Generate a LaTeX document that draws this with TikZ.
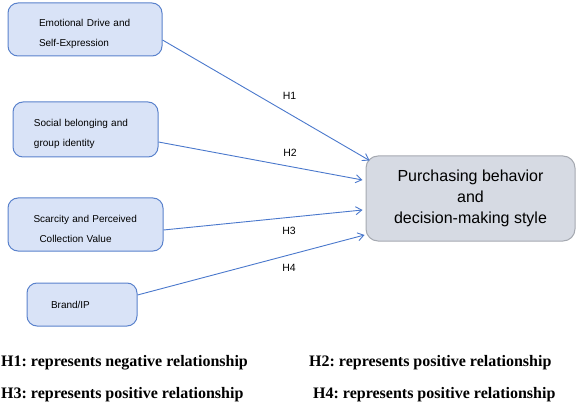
\documentclass[tikz,border=0pt]{standalone}
\usepackage{fontspec}
\setmainfont{Liberation Serif}
\setsansfont{Liberation Sans}
\frenchspacing
\definecolor{factor_fill}{rgb}{
	0.851, 0.890, 0.969
	}
\definecolor{factor_line}{rgb}{
	0.353, 0.510, 0.800
	}
\definecolor{outcome_fill}{rgb}{
	0.839, 0.855, 0.890
	}
\definecolor{outcome_line}{rgb}{
	0.647, 0.663, 0.694
	}
\definecolor{arrow_c}{rgb}{
	0.290, 0.471, 0.800
	}
\usetikzlibrary{arrows.meta,
                calc,
                positioning}

\begin{document}
\begin{tikzpicture}[
			x=1pt, y=-1pt,
			factor/.style = {draw=factor_line, fill=factor_fill, line width=1pt, rounded corners=10pt, align=left, font=\sffamily\fontsize{10}{20}\selectfont},
			lowered/.style = {execute at begin node={\rule{0pt}{16pt}}},
			outcome/.style = {draw=outcome_line, fill=outcome_fill, line width=1pt, rounded corners=12pt, align=center, minimum width=209pt, minimum height=85pt, font=\sffamily\fontsize{16}{21}\selectfont},
			hyp/.style = {font=\sffamily\fontsize{10.5}{12}\selectfont, inner sep=0pt},
			note/.style = {anchor=base west, inner sep=0pt, font=\bfseries\fontsize{16}{18}\selectfont},
			->,
			>={Straight Barb[length=6pt,width=8pt]},
			]
			\path[use as bounding box] (0,0) rectangle (576,409);
			% factors
			\node[factor, lowered, text width=92pt, inner xsep=31pt, minimum height=53pt] (emo) at (85,29.5) {Emotional Drive and\\Self-Expression};
			\node[factor, lowered, text width=103pt, inner xsep=21pt, minimum height=55pt] (soc) at (85.5,129.5) {Social belonging and\\group identity};
			\node[factor, lowered, text width=104pt, inner xsep=25.5pt, minimum height=53pt] (sca) at (85.5,224.5) {Scarcity and Perceived\\\hspace*{6pt}Collection Value};
			\node[factor, text width=62pt, inner xsep=24pt, minimum height=43pt] (bra) at (82,304.5) {Brand/IP};
			% outcome
			\node[outcome] (pur) at (470.5,198.5) {Purchasing behavior\\and\\decision-making style};
			% hypotheses
			\node[hyp] (h1) at (289.5,96) {H1};
			\node[hyp] (h2) at (290,153) {H2};
			\node[hyp] (h3) at (289,231) {H3};
			\node[hyp] (h4) at (289,268) {H4};
			% edges
			\path[arrow_c, line width=0.9pt]
			([yshift=-10.5pt]emo.east) edge ([xshift=4pt,yshift=-5pt]pur.north west)
			([yshift=-12.5pt]soc.east) edge ([xshift=-3pt,yshift=18.5pt]pur.west)
			([yshift=-5.5pt]sca.east) edge ([xshift=-3pt,yshift=-11.5pt]pur.west)
			([yshift=9.5pt]bra.east) edge ([xshift=-1pt,yshift=-36.5pt]pur.west)
			;
			% notes
			\node[note] (n1) at (1,366) {H1: represents negative relationship};
			\node[note] (n2) at (309,366) {H2: represents positive relationship};
			\node[note] (n3) at (1,398) {H3: represents positive relationship};
			\node[note] (n4) at (313,398) {H4: represents positive relationship};
		\end{tikzpicture}
\end{document}
